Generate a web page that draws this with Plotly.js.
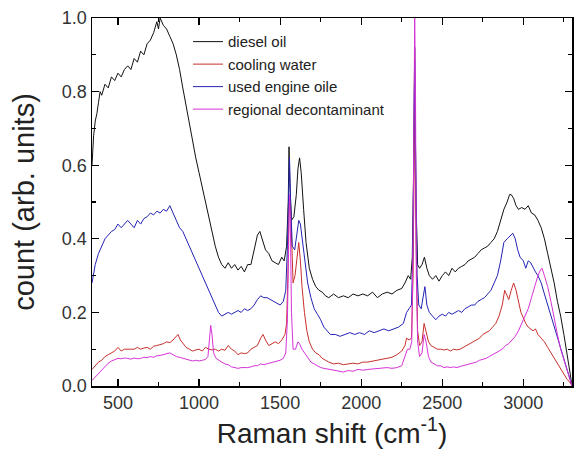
<!DOCTYPE html>
<html>
<head>
<meta charset="utf-8">
<script src="https://cdn.plot.ly/plotly-3.0.1.min.js"></script>
<style>html,body{margin:0;padding:0;background:#fff;}#chart{width:577px;height:459px;}</style>
</head>
<body>
<div id="chart"></div>
<script>
const seriesNames = ["diesel oil", "cooling water", "used engine oile", "regional decontaminant"];
const seriesColors = ["#111111", "#c8302c", "#2323b4", "#d633d6"];

const dieselX = [340,350,360,370,380,390,400,420,440,460,480,500,520,540,560,580,600,620,640,660,680,700,720,740,750,760,780,800,820,840,860,880,900,920,940,960,980,1000,1020,1040,1060,1080,1100,1120,1140,1160,1180,1200,1220,1240,1260,1280,1300,1320,1340,1360,1375,1390,1410,1430,1450,1470,1490,1510,1525,1540,1550,1555,1560,1570,1585,1600,1610,1620,1630,1645,1660,1680,1700,1720,1740,1760,1780,1800,1830,1860,1890,1920,1950,1980,2010,2040,2070,2100,2130,2160,2190,2220,2250,2270,2290,2305,2315,2322,2330,2338,2348,2360,2375,2390,2405,2420,2440,2460,2480,2500,2520,2540,2560,2580,2600,2620,2640,2660,2680,2700,2720,2740,2760,2780,2800,2820,2840,2860,2880,2900,2915,2925,2940,2955,2970,2990,3010,3030,3050,3070,3090,3110,3130,3150,3170,3190,3210,3230,3250,3270,3290,3300];
const dieselY = [0.60,0.68,0.72,0.74,0.77,0.80,0.79,0.82,0.81,0.84,0.83,0.85,0.84,0.86,0.87,0.86,0.89,0.88,0.91,0.90,0.93,0.94,0.96,0.99,0.97,1.0,0.98,0.97,0.95,0.93,0.90,0.86,0.81,0.76,0.71,0.66,0.62,0.58,0.54,0.50,0.46,0.42,0.38,0.35,0.33,0.32,0.335,0.32,0.33,0.315,0.325,0.31,0.33,0.33,0.37,0.41,0.42,0.40,0.37,0.36,0.34,0.335,0.33,0.35,0.34,0.38,0.50,0.65,0.55,0.45,0.46,0.52,0.59,0.62,0.58,0.48,0.39,0.32,0.29,0.27,0.26,0.255,0.245,0.24,0.25,0.24,0.245,0.24,0.25,0.245,0.25,0.245,0.255,0.24,0.25,0.255,0.25,0.26,0.265,0.28,0.30,0.29,0.35,0.55,0.92,0.50,0.33,0.32,0.33,0.35,0.32,0.30,0.29,0.30,0.285,0.30,0.31,0.30,0.32,0.31,0.32,0.325,0.33,0.34,0.345,0.35,0.36,0.37,0.375,0.38,0.39,0.40,0.42,0.45,0.48,0.50,0.52,0.52,0.51,0.49,0.48,0.485,0.48,0.49,0.47,0.465,0.45,0.43,0.40,0.36,0.32,0.28,0.23,0.19,0.14,0.09,0.03,0.0];

const waterX = [340,360,380,400,420,440,460,480,500,520,540,560,580,600,620,640,660,680,700,720,740,760,780,800,820,840,860,870,885,900,920,940,960,980,1000,1020,1040,1060,1080,1100,1120,1140,1160,1180,1200,1220,1240,1260,1280,1300,1320,1340,1360,1380,1395,1410,1430,1450,1470,1490,1510,1530,1540,1548,1555,1562,1570,1580,1592,1605,1615,1625,1635,1650,1665,1680,1700,1720,1740,1760,1780,1800,1830,1860,1890,1920,1950,1980,2010,2040,2070,2100,2130,2160,2190,2220,2250,2270,2280,2295,2310,2320,2330,2338,2348,2360,2375,2388,2400,2415,2430,2450,2470,2490,2510,2530,2550,2570,2590,2610,2630,2650,2670,2690,2710,2730,2750,2770,2790,2810,2830,2850,2870,2885,2900,2910,2925,2940,2955,2970,2985,3000,3015,3030,3045,3060,3075,3090,3110,3130,3150,3170,3190,3210,3230,3250,3270,3290,3300];
const waterY = [0.045,0.055,0.065,0.07,0.08,0.085,0.09,0.095,0.105,0.095,0.10,0.10,0.098,0.10,0.105,0.10,0.103,0.105,0.10,0.108,0.11,0.112,0.115,0.12,0.118,0.125,0.135,0.14,0.125,0.115,0.105,0.10,0.095,0.098,0.10,0.095,0.105,0.10,0.098,0.10,0.095,0.10,0.097,0.11,0.10,0.095,0.085,0.09,0.088,0.09,0.10,0.105,0.11,0.13,0.14,0.125,0.11,0.115,0.12,0.115,0.125,0.14,0.17,0.30,0.50,0.52,0.38,0.28,0.30,0.35,0.39,0.34,0.27,0.20,0.15,0.12,0.10,0.09,0.085,0.075,0.07,0.065,0.06,0.062,0.058,0.06,0.062,0.06,0.065,0.065,0.068,0.07,0.072,0.075,0.078,0.085,0.095,0.11,0.13,0.125,0.13,0.30,0.75,0.40,0.15,0.11,0.12,0.17,0.15,0.12,0.11,0.105,0.10,0.10,0.098,0.10,0.095,0.10,0.098,0.10,0.105,0.11,0.115,0.12,0.125,0.13,0.14,0.145,0.15,0.16,0.17,0.19,0.22,0.26,0.245,0.235,0.26,0.28,0.26,0.23,0.20,0.185,0.17,0.16,0.155,0.15,0.155,0.14,0.13,0.12,0.105,0.09,0.075,0.06,0.045,0.03,0.018,0.008,0.0];

const engineX = [340,350,360,380,400,420,440,460,480,500,520,540,560,580,600,620,640,660,680,700,720,740,760,780,800,820,840,860,880,900,920,940,960,980,1000,1020,1040,1060,1080,1100,1120,1140,1160,1180,1200,1220,1240,1260,1280,1300,1320,1340,1360,1380,1400,1420,1440,1460,1480,1500,1520,1535,1545,1552,1558,1565,1575,1590,1605,1615,1625,1640,1655,1670,1690,1710,1730,1750,1770,1790,1810,1840,1870,1900,1930,1960,1990,2020,2050,2080,2110,2140,2170,2200,2230,2260,2280,2295,2310,2318,2325,2330,2336,2345,2355,2370,2385,2393,2405,2420,2440,2460,2480,2500,2520,2540,2560,2580,2600,2620,2640,2660,2680,2700,2720,2740,2760,2780,2800,2820,2840,2860,2880,2900,2920,2935,2950,2965,2980,3000,3015,3030,3045,3060,3075,3090,3110,3130,3150,3170,3190,3210,3230,3250,3270,3290,3300];
const engineY = [0.28,0.31,0.33,0.36,0.38,0.40,0.41,0.42,0.425,0.44,0.43,0.44,0.45,0.44,0.43,0.45,0.44,0.455,0.46,0.47,0.465,0.475,0.47,0.48,0.475,0.49,0.47,0.45,0.43,0.42,0.40,0.38,0.36,0.34,0.32,0.30,0.28,0.26,0.24,0.22,0.20,0.19,0.195,0.20,0.195,0.20,0.205,0.20,0.21,0.205,0.21,0.22,0.235,0.245,0.24,0.24,0.235,0.23,0.225,0.22,0.23,0.26,0.38,0.55,0.62,0.50,0.38,0.37,0.42,0.45,0.44,0.39,0.33,0.28,0.24,0.21,0.195,0.18,0.16,0.15,0.14,0.14,0.135,0.14,0.145,0.14,0.145,0.14,0.15,0.145,0.15,0.155,0.15,0.155,0.16,0.17,0.20,0.21,0.22,0.35,0.60,0.88,0.60,0.30,0.22,0.21,0.25,0.27,0.22,0.20,0.19,0.18,0.19,0.195,0.19,0.20,0.195,0.20,0.205,0.20,0.21,0.215,0.22,0.22,0.23,0.235,0.24,0.25,0.26,0.28,0.30,0.34,0.39,0.40,0.41,0.415,0.40,0.37,0.35,0.34,0.32,0.34,0.335,0.32,0.31,0.30,0.28,0.25,0.22,0.19,0.16,0.13,0.10,0.07,0.04,0.01,0.0];

const deconX = [340,360,380,400,420,440,460,480,500,520,540,560,580,600,620,640,660,680,700,720,740,760,780,800,820,840,860,880,900,920,940,960,980,1000,1020,1040,1055,1065,1072,1080,1090,1105,1120,1140,1160,1180,1200,1220,1240,1260,1280,1300,1320,1340,1360,1380,1400,1420,1440,1460,1480,1500,1520,1535,1545,1552,1558,1563,1570,1580,1595,1610,1620,1635,1650,1670,1690,1710,1730,1750,1770,1800,1830,1860,1890,1920,1950,1980,2010,2040,2070,2100,2130,2160,2190,2220,2250,2270,2285,2300,2312,2320,2326,2330,2335,2340,2348,2360,2375,2388,2400,2415,2430,2450,2470,2490,2510,2530,2550,2570,2590,2610,2630,2650,2670,2690,2710,2730,2750,2770,2790,2810,2830,2850,2870,2890,2910,2930,2950,2970,2990,3010,3030,3050,3070,3090,3105,3115,3130,3150,3170,3190,3210,3230,3250,3270,3290,3300];
const deconY = [0.015,0.025,0.035,0.045,0.055,0.062,0.068,0.072,0.075,0.074,0.076,0.075,0.073,0.076,0.074,0.075,0.078,0.077,0.08,0.078,0.082,0.083,0.085,0.088,0.09,0.085,0.08,0.078,0.075,0.072,0.07,0.068,0.07,0.068,0.07,0.072,0.08,0.13,0.165,0.14,0.09,0.075,0.07,0.065,0.06,0.058,0.052,0.05,0.048,0.05,0.049,0.05,0.052,0.055,0.055,0.06,0.058,0.06,0.062,0.065,0.068,0.07,0.075,0.09,0.18,0.35,0.52,0.45,0.20,0.10,0.10,0.12,0.115,0.10,0.09,0.075,0.065,0.06,0.055,0.05,0.048,0.045,0.042,0.04,0.038,0.042,0.04,0.045,0.043,0.045,0.046,0.048,0.047,0.05,0.048,0.05,0.055,0.08,0.10,0.10,0.12,0.40,0.80,1.0,0.80,0.30,0.12,0.08,0.09,0.14,0.12,0.08,0.065,0.06,0.055,0.055,0.05,0.052,0.05,0.052,0.05,0.053,0.055,0.057,0.06,0.062,0.065,0.07,0.072,0.075,0.08,0.085,0.09,0.095,0.10,0.11,0.115,0.125,0.135,0.15,0.17,0.19,0.21,0.24,0.27,0.30,0.315,0.32,0.30,0.27,0.23,0.18,0.14,0.10,0.07,0.04,0.01,0.0];

const xTickVals = [500, 1000, 1500, 2000, 2500, 3000];
const yTickVals = [0.0, 0.2, 0.4, 0.6, 0.8, 1.0];

const xs = [dieselX, waterX, engineX, deconX];
const ys = [dieselY, waterY, engineY, deconY];

const traces = seriesNames.map((n, i) => ({
  type: 'scatter', mode: 'lines', name: n,
  x: xs[i], y: ys[i],
  line: {color: seriesColors[i], width: 1}
}));

const fontFam = 'Liberation Sans, Arial, sans-serif';
const axisCommon = {
  showline: true, linecolor: '#000', linewidth: 1.5, mirror: 'ticks',
  ticks: 'inside', ticklen: 7, tickwidth: 1.2, tickcolor: '#000',
  showgrid: false, zeroline: false,
  tickfont: {family: fontFam, size: 18, color: '#333'}
};

const layout = {
  width: 577, height: 459,
  margin: {l: 92, r: 5, t: 18, b: 73},
  paper_bgcolor: '#fff', plot_bgcolor: '#fff',
  showlegend: true,
  legend: {x: 0.2, y: 0.98, xanchor: 'left', yanchor: 'top', bgcolor: 'rgba(0,0,0,0)',
           font: {family: fontFam, size: 15, color: '#222'}, tracegroupgap: 0, itemwidth: 30},
  xaxis: Object.assign({}, axisCommon, {
    range: [340, 3300], tickvals: xTickVals,
    minor: {dtick: 250, tick0: 0, ticks: 'inside', ticklen: 4, tickcolor: '#000'},
    title: {text: 'Raman shift (cm<sup>-1</sup>)', font: {family: fontFam, size: 28, color: '#222'}, standoff: 8}
  }),
  yaxis: Object.assign({}, axisCommon, {
    range: [0, 1.0], tickvals: yTickVals, tickformat: '.1f',
    minor: {dtick: 0.1, tick0: 0, ticks: 'inside', ticklen: 4, tickcolor: '#000'},
    title: {text: 'count (arb. units)', font: {family: fontFam, size: 29, color: '#222'}, standoff: 18}
  })
};

Plotly.newPlot('chart', traces, layout, {displayModeBar: false, staticPlot: true});
</script>
</body>
</html>
